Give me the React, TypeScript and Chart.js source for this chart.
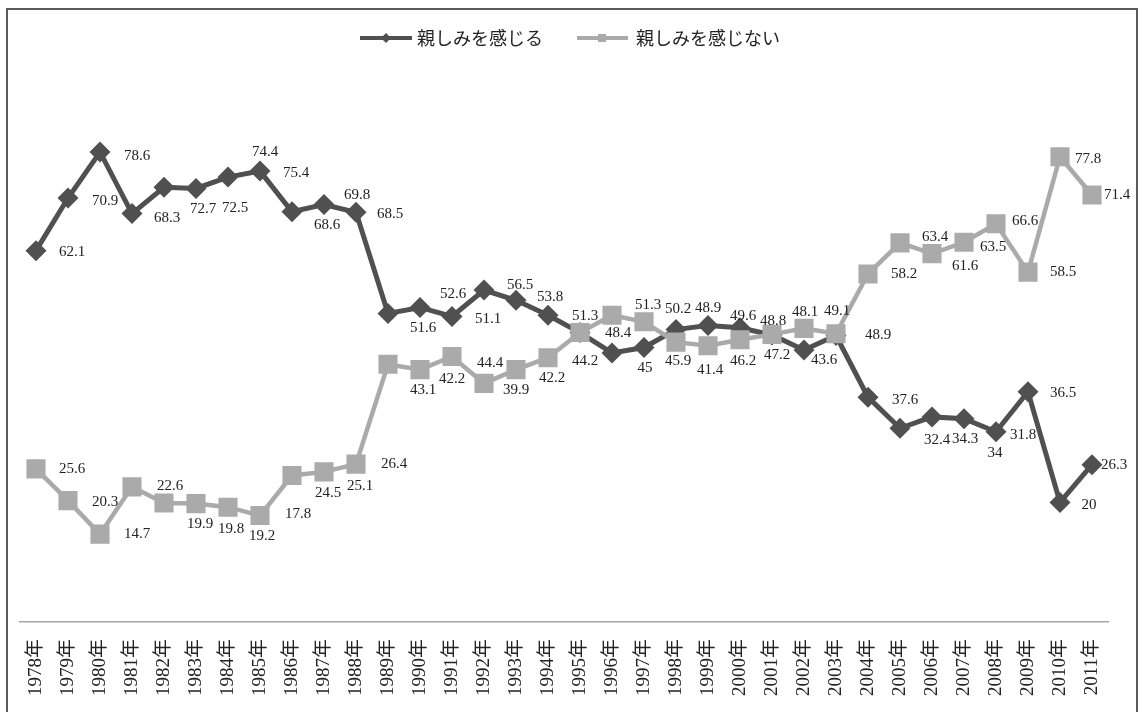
import React, { useEffect, useRef } from 'react';
import { Chart, registerables } from 'chart.js';

Chart.register(...registerables);

const years = [
  '1978年', '1979年', '1980年', '1981年', '1982年', '1983年', '1984年', '1985年', '1986年', '1987年',
  '1988年', '1989年', '1990年', '1991年', '1992年', '1993年', '1994年', '1995年', '1996年', '1997年',
  '1998年', '1999年', '2000年', '2001年', '2002年', '2003年', '2004年', '2005年', '2006年', '2007年',
  '2008年', '2009年', '2010年', '2011年',
];

const seriesNames = ['親しみを感じる', '親しみを感じない'];

// 親しみを感じる (dark, diamonds)
const feelValues = [
  62.1, 70.9, 78.6, 68.3, 72.7, 72.5, 74.4, 75.4, 68.6, 69.8,
  68.5, 51.6, 52.6, 51.1, 55.5, 53.8, 51.3, 48.4, 45.0, 45.9,
  48.9, 49.6, 49.2, 48.0, 45.5, 47.9, 37.6, 32.4, 34.3, 34.0,
  31.8, 38.5, 20.0, 26.3,
];

// 親しみを感じない (light, squares)
const notFeelValues = [
  25.6, 20.3, 14.7, 22.6, 19.9, 19.8, 19.2, 17.8, 24.5, 25.1,
  26.4, 43.1, 42.2, 44.4, 39.9, 42.2, 44.2, 48.4, 51.3, 50.2,
  46.8, 46.2, 47.2, 48.1, 49.1, 48.2, 58.2, 63.4, 61.6, 63.5,
  66.6, 58.5, 77.8, 71.4,
];

// data label texts as printed in the chart ('' = not visible)
const feelLabels = [
  '62.1', '70.9', '78.6', '68.3', '72.7', '72.5', '74.4', '75.4', '68.6', '69.8',
  '68.5', '51.6', '52.6', '51.1', '56.5', '53.8', '51.3', '48.4', '45', '45.9',
  '48.9', '49.6', '48.8', '', '43.6', '', '37.6', '32.4', '34.3', '34',
  '31.8', '36.5', '20', '26.3',
];
const notFeelLabels = [
  '25.6', '20.3', '14.7', '22.6', '19.9', '19.8', '19.2', '17.8', '24.5', '25.1',
  '26.4', '43.1', '42.2', '44.4', '39.9', '42.2', '44.2', '', '51.3', '50.2',
  '41.4', '46.2', '47.2', '48.1', '49.1', '48.9', '58.2', '63.4', '61.6', '63.5',
  '66.6', '58.5', '77.8', '71.4',
];

// label placement relative to its marker (style, not data)
const feelLabelOffsets: [number, number][] = [
  [36, 1], [37, 3], [37, 4], [35, 4], [39, 22], [39, 20], [37, -25], [36, 2], [35, 13], [33, -10],
  [34, 2], [35, 15], [33, -13], [36, 3], [36, -5], [34, -3], [37, 1], [38, 0], [33, 15], [34, 14],
  [32, -22], [35, -9], [33, -7], [0, 0], [20, 10], [0, 0], [37, 3], [37, 12], [33, 22], [31, 34],
  [27, 3], [35, 1], [29, 3], [22, 0],
];
const notFeelLabelOffsets: [number, number][] = [
  [36, 0], [37, 1], [37, 0], [38, -1], [36, 21], [35, 25], [34, 29], [38, -1], [36, 18], [36, 14],
  [38, 0], [35, 26], [32, 9], [38, 7], [32, 7], [36, 8], [37, 3], [0, 0], [36, -10], [34, -13],
  [34, 28], [35, 15], [37, 15], [33, -22], [33, -17], [42, 1], [36, 0], [35, -6], [33, 12], [29, 5],
  [29, -3], [35, 0], [28, 2], [25, 0],
];

const DARK = '#505050';
const LIGHT = '#aaaaaa';
const SERIF = '"Liberation Serif", "DejaVu Serif", "Noto Sans CJK JP", serif';
const CJK = '"Noto Sans CJK JP", sans-serif';

// dataset index -> label texts & offsets (dataset 0 = light drawn on top, dataset 1 = dark)
const labelSets = [
  { texts: notFeelLabels, offsets: notFeelLabelOffsets },
  { texts: feelLabels, offsets: feelLabelOffsets },
];

const backgroundPlugin = {
  id: 'bgFrame',
  beforeDraw(chart: any) {
    const ctx = chart.ctx;
    ctx.save();
    ctx.fillStyle = '#ffffff';
    ctx.fillRect(0, 0, chart.width, chart.height);
    ctx.restore();
  },
  afterDraw(chart: any) {
    const ctx = chart.ctx;
    ctx.save();
    ctx.strokeStyle = '#5a5a5a';
    ctx.lineWidth = 2;
    ctx.strokeRect(7, 9, 1130, 740);
    ctx.restore();
  },
};

const valueLabelPlugin = {
  id: 'valueLabels',
  afterDatasetsDraw(chart: any) {
    const ctx = chart.ctx;
    ctx.save();
    ctx.font = `15px ${SERIF}`;
    ctx.fillStyle = '#222222';
    ctx.textAlign = 'center';
    ctx.textBaseline = 'middle';
    chart.data.datasets.forEach((_ds: any, di: number) => {
      const meta = chart.getDatasetMeta(di);
      const set = labelSets[di];
      meta.data.forEach((pt: any, i: number) => {
        const t = set.texts[i];
        if (!t) return;
        const o = set.offsets[i];
        ctx.fillText(t, pt.x + o[0], pt.y + o[1]);
      });
    });
    ctx.restore();
  },
};

const legendPlugin = {
  id: 'customLegend',
  afterDraw(chart: any) {
    const ctx = chart.ctx;
    const y = 38;
    ctx.save();
    ctx.font = `18px ${CJK}`;
    ctx.textBaseline = 'middle';
    ctx.textAlign = 'left';
    // item 1: dark line + diamond
    ctx.strokeStyle = DARK;
    ctx.lineWidth = 4;
    ctx.beginPath();
    ctx.moveTo(360, y);
    ctx.lineTo(412, y);
    ctx.stroke();
    ctx.fillStyle = DARK;
    ctx.beginPath();
    ctx.moveTo(386, y - 5);
    ctx.lineTo(391, y);
    ctx.lineTo(386, y + 5);
    ctx.lineTo(381, y);
    ctx.closePath();
    ctx.fill();
    ctx.fillStyle = '#222222';
    ctx.fillText(seriesNames[0], 417, y);
    // item 2: light line + square
    ctx.strokeStyle = LIGHT;
    ctx.beginPath();
    ctx.moveTo(577, y);
    ctx.lineTo(628, y);
    ctx.stroke();
    ctx.fillStyle = LIGHT;
    ctx.fillRect(598, y - 4, 8, 8);
    ctx.fillStyle = '#222222';
    ctx.fillText(seriesNames[1], 636, y);
    ctx.restore();
  },
};

export default function App() {
  const canvasRef = useRef<HTMLCanvasElement | null>(null);

  useEffect(() => {
    document.body.style.margin = '0';
    const canvas = canvasRef.current;
    if (!canvas) return;
    const chart = new Chart(canvas, {
      type: 'line',
      data: {
        labels: years,
        datasets: [
          {
            label: seriesNames[1],
            data: notFeelValues,
            borderColor: LIGHT,
            backgroundColor: LIGHT,
            borderWidth: 4.5,
            pointStyle: 'rect',
            pointRadius: 13.5,
            pointBorderWidth: 0,
            pointBackgroundColor: LIGHT,
            tension: 0,
            fill: false,
          },
          {
            label: seriesNames[0],
            data: feelValues,
            borderColor: DARK,
            backgroundColor: DARK,
            borderWidth: 5,
            pointStyle: 'rectRot',
            pointRadius: 10.5,
            pointBorderWidth: 0,
            pointBackgroundColor: DARK,
            tension: 0,
            fill: false,
          },
        ],
      },
      options: {
        responsive: false,
        animation: false,
        layout: { padding: { top: 24, left: 20, right: 35, bottom: 0 } },
        plugins: {
          legend: { display: false },
          tooltip: { enabled: false },
          title: { display: false },
        },
        scales: {
          x: {
            type: 'category',
            offset: true,
            grid: { display: false, drawTicks: false },
            border: { display: true, color: '#a5a5a5', width: 1.5 },
            ticks: {
              autoSkip: false,
              minRotation: 90,
              maxRotation: 90,
              padding: 17,
              color: '#222222',
              font: { family: SERIF, size: 19 },
            },
            afterFit(scale: any) {
              scale.height = 90;
            },
          },
          y: {
            display: false,
            min: 0,
            max: 100,
          },
        },
      },
      plugins: [backgroundPlugin, valueLabelPlugin, legendPlugin],
    });
    return () => {
      chart.destroy();
    };
  }, []);

  return (
    <canvas
      ref={canvasRef}
      width={1143}
      height={712}
      style={{ display: 'block', width: '1143px', height: '712px' }}
    />
  );
}
